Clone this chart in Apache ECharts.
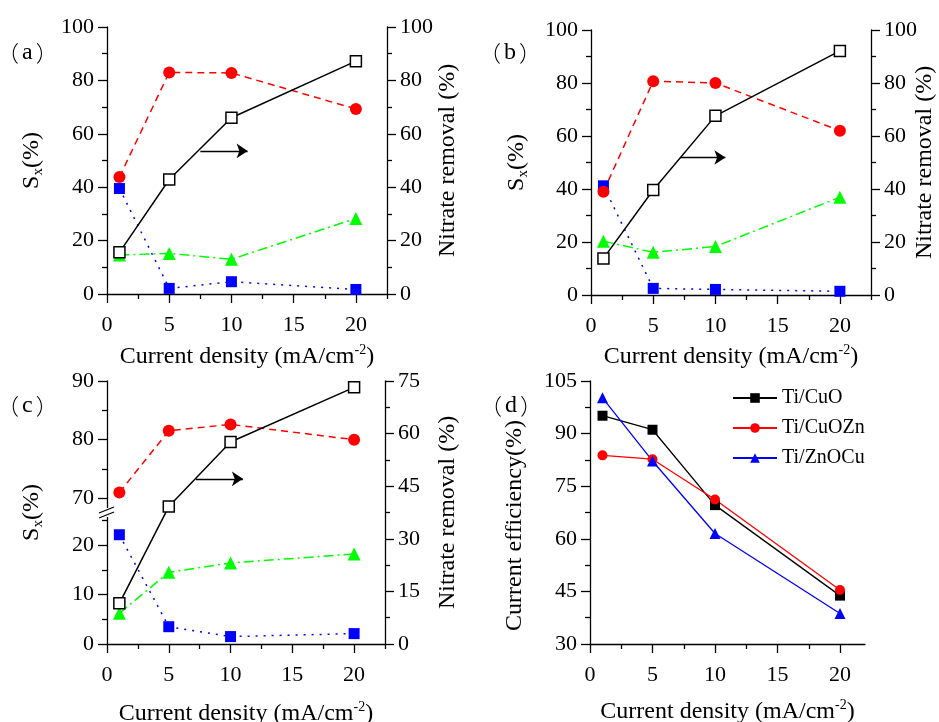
<!DOCTYPE html>
<html><head><meta charset="utf-8">
<script src="https://cdn.jsdelivr.net/npm/echarts@6/dist/echarts.min.js"></script>
<style>html,body{margin:0;padding:0;background:#fff}#c{width:939px;height:722px}</style>
</head><body><div id="c"></div>
<script>
// ---------- data ----------
const density = [1, 5, 10, 20];
const xMajor = [0, 5, 10, 15, 20];
const xMinor = [2.5, 7.5, 12.5, 17.5, 22.5];
// (a)
const aBlue = [39.5, 2.1, 4.6, 1.7];
const aGreen = [14.6, 15.2, 13.0, 28.3];
const aRed = [43.8, 83.0, 82.8, 69.3];
const aRemoval = [15.6, 42.9, 66.0, 87.2];
// (b)
const bBlue = [41.2, 2.5, 2.1, 1.4];
const bGreen = [20.3, 16.1, 18.3, 36.9];
const bRed = [39.0, 80.7, 80.0, 62.0];
const bRemoval = [13.8, 39.6, 67.6, 92.1];
// (c)
const cBlue = [22.1, 3.5, 1.5, 2.1];
const cGreen = [6.2, 14.5, 16.4, 18.2];
const cRed = [71.0, 81.5, 82.6, 80.0];
const cRemoval = [11.6, 39.2, 57.6, 73.2];
// (d)
const dNames = ['Ti/CuO', 'Ti/CuOZn', 'Ti/ZnOCu'];
const dCuO = [95.1, 91.1, 69.6, 43.8];
const dCuOZn = [83.8, 82.7, 71.2, 45.4];
const dZnOCu = [100.2, 82.2, 61.5, 38.7];
// tick labels
const tick100 = [0, 20, 40, 60, 80, 100];
const tick100Minor = [10, 30, 50, 70, 90];
const tickCUpper = [70, 80, 90];
const tickCUpperMinor = [75, 85];
const tickCLower = [0, 10, 20];
const tickCLowerMinor = [5, 15, 25];
const tick75 = [0, 15, 30, 45, 60, 75];
const tick75Minor = [7.5, 22.5, 37.5, 52.5, 67.5];
const tickD = [30, 45, 60, 75, 90, 105];
const tickDMinor = [37.5, 52.5, 67.5, 82.5, 97.5];
// arrow annotations [xStart, xEnd, y on right axis]
const arrowA = [7.5, 11.3, 53.6];
const arrowB = [7.2, 10.8, 51.9];
const arrowC = [7.2, 11.0, 47.1];

// ---------- helpers ----------
const FONT = '"Liberation Serif", "Times New Roman", serif';
const K = '#000';
const pts = arr => density.map((x, i) => [x, arr[i]]);
const richT = {
  sub: { fontFamily: FONT, fontSize: 15, lineHeight: 15, verticalAlign: 'bottom', color: K },
  sup: { fontFamily: FONT, fontSize: 14, lineHeight: 14, verticalAlign: 'top', color: K }
};
const nameStyle = (extra) => Object.assign({ fontFamily: FONT, fontSize: 24, color: K, lineHeight: 28, rich: richT }, extra || {});

const xAxes = [], yAxes = [];
function addX(o) { xAxes.push(o); return xAxes.length - 1; }
function addY(o) { yAxes.push(o); return yAxes.length - 1; }

function majorAxis(grid, min, max, ticks, position, name, nameGap, nameExtra, labelMargin) {
  return {
    type: 'value', gridIndex: grid, min, max, position,
    splitLine: { show: false },
    axisLine: { show: true, onZero: false, lineStyle: { color: K, width: 1.3 } },
    axisTick: { show: true, length: 9, customValues: ticks, lineStyle: { color: K, width: 1.3 } },
    axisLabel: { show: true, customValues: ticks, color: K, fontFamily: FONT, fontSize: 22, margin: labelMargin || 13 },
    name: name || '', nameLocation: 'middle', nameGap: nameGap || 0, nameMoveOverlap: false,
    nameTextStyle: nameStyle(nameExtra)
  };
}
function minorAxis(grid, min, max, ticks, position) {
  return {
    type: 'value', gridIndex: grid, min, max, position,
    splitLine: { show: false },
    axisLine: { show: false, onZero: false },
    axisTick: { show: true, length: 5, customValues: ticks, lineStyle: { color: K, width: 1.3 } },
    axisLabel: { show: false }
  };
}
function hiddenAxis(grid, min, max) {
  return { type: 'value', gridIndex: grid, min, max, show: false, splitLine: { show: false } };
}
const XNAME = 'Current density (mA/cm{sup|-2})';
const XM = 20;

function ser(name, xi, yi, data, color, symbol, size, dash, extra) {
  return Object.assign({
    type: 'line', name, xAxisIndex: xi, yAxisIndex: yi, data: pts(data),
    symbol, symbolSize: size, showSymbol: true,
    lineStyle: { color, width: 1.5, type: dash },
    itemStyle: { color },
    emphasis: { disabled: true }, silent: true
  }, extra || {});
}
function openSquare(name, xi, yi, data, arrow) {
  return ser(name, xi, yi, data, K, 'rect', 11, 'solid', {
    itemStyle: { color: '#fff', borderColor: K, borderWidth: 1.5 },
    markLine: {
      silent: true, symbol: ['none', 'arrow'], symbolSize: 11,
      label: { show: false }, emphasis: { disabled: true },
      lineStyle: { color: K, type: 'solid', width: 1.3 },
      data: [[{ coord: [arrow[0], arrow[2]] }, { coord: [arrow[1], arrow[2]] }]]
    }
  });
}
const DOT = [2, 6], DASH = [7, 5], DASHDOT = [10, 4, 2, 4];
const series = [];

// grids
const G = (left, top, width, height) => ({ left, top, width, height, outerBoundsMode: 'none', containLabel: false });
const grids = [
  G(107, 27, 280, 267),   // 0 (a)
  G(591, 30, 280, 265),   // 1 (b)
  G(107, 381, 278, 132),  // 2 (c) upper
  G(107, 513, 278, 131),  // 3 (c) lower
  G(107, 381, 278, 263),  // 4 (c) full
  G(590, 381, 275, 263)   // 5 (d)
];

// ----- panel (a) -----
let xa = addX(majorAxis(0, 0, 22.5, xMajor, 'bottom', XNAME, 49, null, XM));
addX(minorAxis(0, 0, 22.5, xMinor, 'bottom'));
let ya = addY(majorAxis(0, 0, 100, tick100, 'left', 'S{sub|x}(%)', 61));
addY(minorAxis(0, 0, 100, tick100Minor, 'left'));
let yaR = addY(majorAxis(0, 0, 100, tick100, 'right', 'Nitrate removal (%)', 47));
addY(minorAxis(0, 0, 100, tick100Minor, 'right'));
series.push(ser('a-blue', xa, ya, aBlue, '#0000ff', 'rect', 11, DOT));
series.push(ser('a-green', xa, ya, aGreen, '#00ff00', 'triangle', 13, DASHDOT));
series.push(ser('a-red', xa, ya, aRed, '#ff0000', 'circle', 12, DASH));
series.push(openSquare('a-removal', xa, yaR, aRemoval, arrowA));

// ----- panel (b) -----
let xb = addX(majorAxis(1, 0, 22.5, xMajor, 'bottom', XNAME, 48, null, XM));
addX(minorAxis(1, 0, 22.5, xMinor, 'bottom'));
let yb = addY(majorAxis(1, 0, 100, tick100, 'left', 'S{sub|x}(%)', 60));
addY(minorAxis(1, 0, 100, tick100Minor, 'left'));
let ybR = addY(majorAxis(1, 0, 100, tick100, 'right', 'Nitrate removal (%)', 40));
addY(minorAxis(1, 0, 100, tick100Minor, 'right'));
series.push(ser('b-blue', xb, yb, bBlue, '#0000ff', 'rect', 11, DOT));
series.push(ser('b-green', xb, yb, bGreen, '#00ff00', 'triangle', 13, DASHDOT));
series.push(ser('b-red', xb, yb, bRed, '#ff0000', 'circle', 12, DASH));
series.push(openSquare('b-removal', xb, ybR, bRemoval, arrowB));

// ----- panel (c) -----
let xcU = addX(hiddenAxis(2, 0, 22.5));
let xcL = addX(majorAxis(3, 0, 22.5, xMajor, 'bottom', XNAME, 56, null, XM));
addX(minorAxis(3, 0, 22.5, xMinor, 'bottom'));
let xcF = addX(hiddenAxis(4, 0, 22.5));
let ycU = addY(majorAxis(2, 67.5, 90, tickCUpper, 'left'));
addY(minorAxis(2, 67.5, 90, tickCUpperMinor, 'left'));
let ycL = addY(majorAxis(3, 0, 26.5, tickCLower, 'left'));
addY(minorAxis(3, 0, 26.5, tickCLowerMinor, 'left'));
let ycR = addY(majorAxis(4, 0, 75, tick75, 'right', 'Nitrate removal (%)', 49));
addY(minorAxis(4, 0, 75, tick75Minor, 'right'));
let ycName = addY({
  type: 'value', gridIndex: 4, min: 0, max: 75, position: 'left',
  splitLine: { show: false }, axisLine: { show: false }, axisTick: { show: false }, axisLabel: { show: false },
  name: 'S{sub|x}(%)', nameLocation: 'middle', nameGap: 61, nameMoveOverlap: false, nameTextStyle: nameStyle()
});
series.push(ser('c-blue', xcL, ycL, cBlue, '#0000ff', 'rect', 11, DOT));
series.push(ser('c-green', xcL, ycL, cGreen, '#00ff00', 'triangle', 13, DASHDOT));
series.push(ser('c-red', xcU, ycU, cRed, '#ff0000', 'circle', 12, DASH));
series.push(openSquare('c-removal', xcF, ycR, cRemoval, arrowC));

// ----- panel (d) -----
let xd = addX(majorAxis(5, 0, 22, xMajor, 'bottom', XNAME, 54, null, XM));
addX(minorAxis(5, 0, 22, [2.5, 7.5, 12.5, 17.5], 'bottom'));
let yd = addY(majorAxis(5, 30, 105, tickD, 'left', 'Current efficiency(%)', 61, { padding: [0, 26, 0, 0] }));
addY(minorAxis(5, 30, 105, tickDMinor, 'left'));
series.push(ser(dNames[0], xd, yd, dCuO, '#000000', 'rect', 10, 'solid', { lineStyle: { color: '#000', width: 1.3 } }));
series.push(ser(dNames[1], xd, yd, dCuOZn, '#ff0000', 'circle', 10, 'solid', { lineStyle: { color: '#ff0000', width: 1.3 } }));
series.push(ser(dNames[2], xd, yd, dZnOCu, '#0000ff', 'triangle', 11, 'solid', { lineStyle: { color: '#0000ff', width: 1.3 } }));

const panelLabel = (letter, x, y) => ({
  type: 'text', x, y, silent: true,
  style: {
    text: '{p|（}{a|' + letter + '}{p|）}',
    fill: K, textVerticalAlign: 'middle',
    rich: {
      p: { fontFamily: '"Noto Sans CJK SC"', fontSize: 22, fontWeight: 300, fill: K, color: K },
      a: { fontFamily: FONT, fontSize: 24, fill: K, color: K, padding: [0, 3, 0, 3] }
    }
  }
});

const chart = echarts.init(document.getElementById('c'), null, { renderer: 'canvas' });
chart.setOption({
  animation: false,
  backgroundColor: '#fff',
  grid: grids,
  xAxis: xAxes,
  yAxis: yAxes,
  legend: {
    data: dNames, orient: 'vertical', left: 727, top: 383,
    itemWidth: 44, itemHeight: 12, itemGap: 10,
    textStyle: { fontFamily: FONT, fontSize: 20, color: K },
    selectedMode: false
  },
  series,
  graphic: [
    panelLabel('a', -3, 53),
    panelLabel('b', 479, 53),
    panelLabel('c', -3, 406),
    panelLabel('d', 480, 406),
    { type: 'rect', shape: { x: 104, y: 508, width: 6, height: 9 }, style: { fill: '#fff' }, z: 100, silent: true },
    { type: 'line', shape: { x1: 99, y1: 513, x2: 114, y2: 507 }, style: { stroke: K, lineWidth: 1.3 }, z: 101, silent: true },
    { type: 'line', shape: { x1: 99, y1: 518, x2: 114, y2: 512 }, style: { stroke: K, lineWidth: 1.3 }, z: 101, silent: true }
  ]
});
</script>
</body></html>
